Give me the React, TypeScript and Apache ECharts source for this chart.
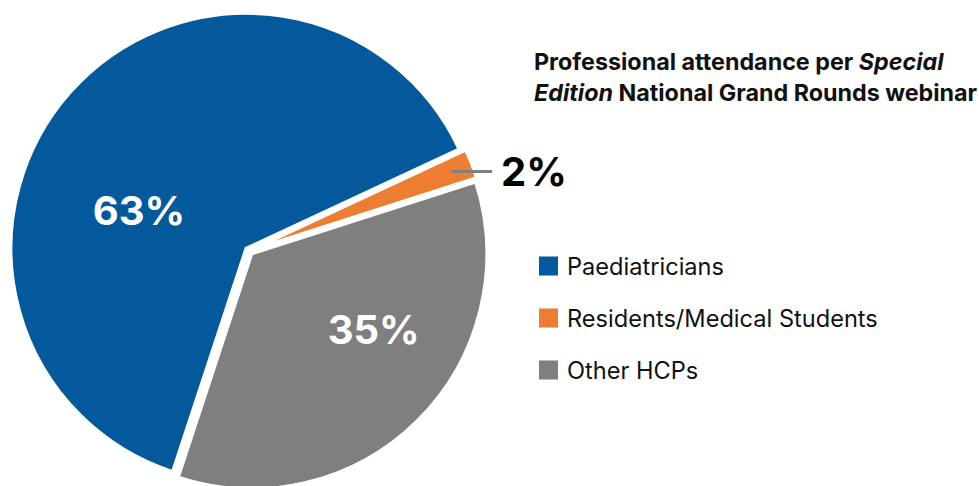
import React, { useEffect, useRef } from "react";
import * as echarts from "echarts";

const categories = ["Paediatricians", "Residents/Medical Students", "Other HCPs"];
const shares = [63, 2, 35];
const colors = ["#03599B", "#ED7D31", "#7F7F7F"];
const insideLabelShift = [
  [-17, 42],
  [0, 0],
  [37, -10],
];

const FONT = "Inter, 'Noto Sans', Arial, sans-serif";

export default function App() {
  const ref = useRef<HTMLDivElement>(null);

  useEffect(() => {
    if (!ref.current) return;
    const chart = echarts.init(ref.current, undefined, { renderer: "svg" });
    const center = [249, 251];
    const startAngle = 251.8;

    chart.setOption({
      animation: false,
      backgroundColor: "#ffffff",
      title: {
        left: 534,
        top: 46,
        padding: 0,
        text:
          "{b|Professional attendance per }{bi|Special}\n{bi|Edition}{b| National Grand Rounds webinar}",
        textStyle: {
          rich: {
            b: { fontFamily: FONT, fontWeight: "bold", fontSize: 23.3, color: "#111111", lineHeight: 31 },
            bi: { fontFamily: FONT, fontWeight: "bold", fontStyle: "italic", fontSize: 23.3, color: "#111111", lineHeight: 31 },
          },
        },
      },
      legend: {
        orient: "vertical",
        left: 537,
        top: 254,
        padding: 0,
        itemWidth: 21,
        itemHeight: 21,
        itemGap: 28,
        icon: "rect",
        selectedMode: false,
        data: categories.map((n, i) => ({ name: n, itemStyle: { color: colors[i] } })),
        textStyle: { fontFamily: FONT, fontSize: 23.6, color: "#111111", padding: [0, 0, 0, 3] },
      },
      series: [
        {
          type: "pie",
          z: 2,
          center,
          radius: 235,
          startAngle,
          clockwise: true,
          selectedMode: "multiple",
          selectedOffset: 4,
          avoidLabelOverlap: false,
          emphasis: { disabled: true },
          itemStyle: { borderColor: "#ffffff", borderWidth: 3 },
          label: {
            show: true,
            position: "inside",
            formatter: "{c}%",
            color: "#ffffff",
            fontFamily: FONT,
            fontSize: 40,
            fontWeight: "bold",
          },
          labelLine: { show: false },
          labelLayout: (p: any) => ({
            dx: insideLabelShift[p.dataIndex][0],
            dy: insideLabelShift[p.dataIndex][1],
          }),
          data: categories.map((n, i) => ({
            name: n,
            value: shares[i],
            selected: true,
            itemStyle: { color: colors[i] },
            label: { show: i !== 1 },
          })),
        },
        {
          type: "pie",
          z: 5,
          center,
          radius: 214,
          startAngle,
          clockwise: true,
          silent: true,
          selectedMode: "multiple",
          selectedOffset: 4,
          avoidLabelOverlap: false,
          emphasis: { disabled: true },
          itemStyle: { color: "rgba(0,0,0,0)", borderWidth: 0 },
          label: {
            position: "outside",
            formatter: "{c}%",
            color: "#000000",
            fontFamily: FONT,
            fontSize: 40,
            fontWeight: "bold",
            distanceToLabelLine: 9,
          },
          labelLine: {
            length: 0,
            length2: 40,
            lineStyle: { color: "#7F7F7F", width: 3 },
          },
          data: categories.map((n, i) => ({
            name: n,
            value: shares[i],
            selected: true,
            itemStyle: { color: "rgba(0,0,0,0)" },
            label: { show: i === 1 },
            labelLine: { show: i === 1 },
          })),
        },
      ],
    });
    return () => chart.dispose();
  }, []);

  return (
    <div
      ref={ref}
      style={{ position: "fixed", left: 0, top: 0, width: 979, height: 486 }}
    />
  );
}
